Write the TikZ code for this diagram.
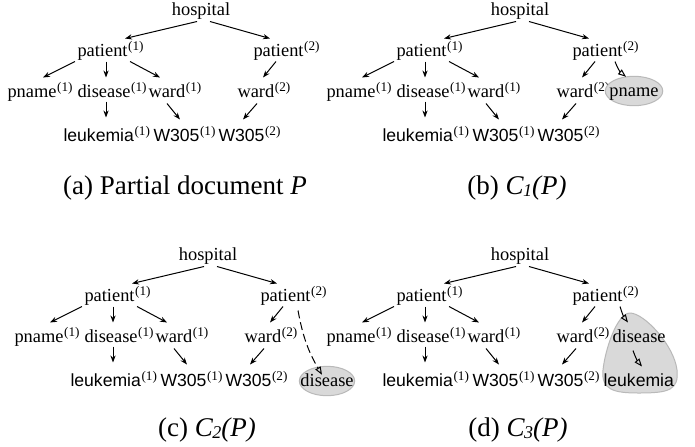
\documentclass[tikz,border=0pt]{standalone}
\usepackage{fontspec}
\setmainfont{Liberation Serif}
\setsansfont{Liberation Sans}
\usetikzlibrary{arrows.meta,shapes.geometric}

\newcommand\nsup[1]{\kern0.3pt\raisebox{2.8pt}{\rmfamily\fontsize{6.6}{7}\selectfont(#1)}}
\newcommand\capc[1]{\textit{C\kern-0.3pt\raisebox{-1pt}{\fontsize{9}{9}\selectfont#1}(P)}}
\newcommand\basetree{%
  \node[lbl] (hosp) at (201,10) {hospital};
  \node[lbl,anchor=west] (pat1) at (77,51) {patient\nsup{1}};
  \node[lbl,anchor=west] (pat2) at (253,51) {patient\nsup{2}};
  \node[lbl,anchor=west] (pn1) at (7,92) {pname\nsup{1}};
  \node[lbl,anchor=west] (dis1) at (77,92) {disease\nsup{1}};
  \node[lbl,anchor=west] (wd1) at (148,92) {ward\nsup{1}};
  \node[lbl,anchor=west] (wd2) at (237,92) {ward\nsup{2}};
  \node[val,anchor=west] (leu1) at (63,136) {leukemia\nsup{1}};
  \node[val,anchor=west] (w1) at (153,136) {W305\nsup{1}};
  \node[val,anchor=west] (w2) at (218,136) {W305\nsup{2}};
  \draw[arr] ([shift={(-4,2)}]hosp.south) -- ([shift={(48,-3)}]pat1.north west);
  \draw[arr] ([shift={(9,2)}]hosp.south) -- ([shift={(17,-3)}]pat2.north west);
  \draw[arr] ([shift={(-2,1)}]pat1.south west) -- ([shift={(36,-5)}]pn1.north west);
  \draw[arr] ([shift={(29,1)}]pat1.south west) -- ([shift={(29,-5)}]dis1.north west);
  \draw[arr] ([shift={(53,1)}]pat1.south west) -- ([shift={(12,-5)}]wd1.north west);
  \draw[arr] ([shift={(23,1)}]pat2.south west) -- ([shift={(26,-5)}]wd2.north west);
  \draw[arr] ([shift={(29,0)}]dis1.south west) -- ([shift={(43,-9)}]leu1.north west);
  \draw[arr] ([shift={(19,2)}]wd1.south west) -- ([shift={(27,-7)}]w1.north west);
  \draw[arr] ([shift={(20,2)}]wd2.south west) -- ([shift={(25,-7)}]w2.north west);
}

\begin{document}
\begin{tikzpicture}[x=0.5pt,y=-0.5pt,line width=0.5pt,
    lbl/.style={inner sep=0pt,text height=7pt,text depth=2pt,font=\fontsize{9.2}{11}\selectfont},
    val/.style={lbl,font=\sffamily\fontsize{8.8}{11}\selectfont},
    capt/.style={inner sep=0pt,font=\fontsize{13.5}{16}\selectfont},
    added/.style={lbl,ellipse,fill=gray!30,draw=gray!55,inner xsep=#1,inner ysep=0.7pt},
    arr/.style={-{Stealth[length=3.5pt,width=2.6pt]}},
    narr/.style={-{Triangle[open,length=4pt,width=3pt]}}]
  \path[fill=white,use as bounding box] (0,0) rectangle (695,446);

  \begin{scope}[name prefix=a-]
    \basetree
    \node[capt] (capa) at (185,188) {(a) Partial document \textit{P}};
  \end{scope}

  \begin{scope}[shift={(319,0)},name prefix=b-]
    \basetree
    \node[added=-2.1pt] (pn2) at (315,91) {pname};
    \draw[narr] ([shift={(43,1)}]pat2.south west) to[bend right=15] ([shift={(-8,1)}]pn2.north);
    \node[capt] (capb) at (198,188) {(b) \capc{1}};
  \end{scope}

  \begin{scope}[shift={(7,245)},name prefix=c-]
    \basetree
    \node[added=-3.5pt] (dis2) at (320,136) {disease};
    \draw[narr,dash pattern=on 4pt off 2pt] ([shift={(38,5)}]pat2.south west) to[bend right=10] ([shift={(-5,9)}]dis2.north);
    \node[capt] (capc) at (200,185) {(c) \capc{2}};
  \end{scope}

  \begin{scope}[shift={(319,245)},name prefix=d-]
    \draw[fill=gray!30,draw=gray!55] (311,68) .. controls (298,68) and (286,105) .. (284,125)
      .. controls (282,145) and (295,148) .. (320,148) .. controls (350,148) and (360,145) .. (358,125)
      .. controls (355,100) and (325,68) .. (311,68) -- cycle;
    \basetree
    \node[lbl,anchor=west] (dis3) at (293,92) {disease};
    \node[val,anchor=west] (leu3) at (284,136) {leukemia};
    \draw[narr] ([shift={(48,1)}]pat2.south west) to[bend right=10] ([shift={(16,-5)}]dis3.north west);
    \draw[narr] ([shift={(21,4)}]dis3.south west) to[bend right=10] ([shift={(39,-5)}]leu3.north west);
    \node[capt] (capd) at (199,185) {(d) \capc{3}};
  \end{scope}
\end{tikzpicture}
\end{document}
